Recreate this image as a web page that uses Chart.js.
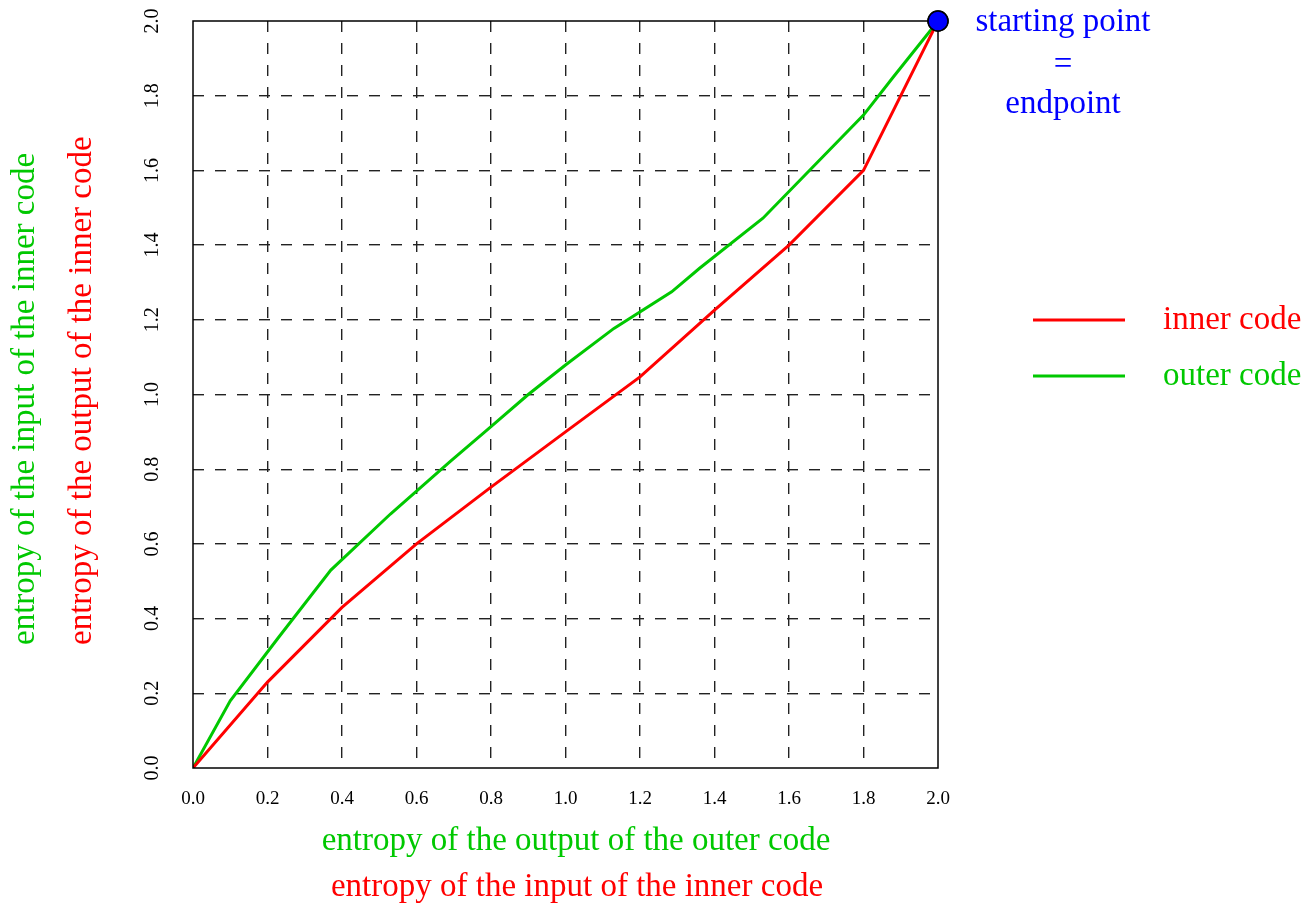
<!DOCTYPE html>
<html>
<head>
<meta charset="utf-8">
<script src="https://cdn.jsdelivr.net/npm/chart.js@4"></script>
<style>
  body { margin: 0; background: #fff; }
  #wrap { width: 1308px; height: 907px; }
</style>
</head>
<body>
<div id="wrap"><canvas id="myChart" width="1308" height="907"></canvas></div>
<script>
// inner code curve (x = input entropy, y = output entropy)
const innerX = [0, 0.2, 0.4, 0.6, 0.8, 1.0, 1.2, 1.4, 1.6, 1.8, 2.0];
const innerY = [0, 0.23, 0.43, 0.60, 0.752, 0.90, 1.047, 1.226, 1.40, 1.60, 2.0];
// outer code curve
const outerX = [0, 0.10, 0.23, 0.37, 0.53, 0.69, 0.80, 0.90, 1.0, 1.13, 1.285, 1.36, 1.53, 1.80, 1.88, 2.0];
const outerY = [0, 0.18, 0.35, 0.53, 0.68, 0.82, 0.914, 1.0, 1.079, 1.177, 1.275, 1.338, 1.472, 1.748, 1.85, 2.0];
const startPoint = [2.0, 2.0];
const tickMin = 0, tickMax = 2.0, tickStep = 0.2;

const seriesNames = ['inner code', 'outer code'];
const RED = '#ff0000', GREEN = '#00c800', BLUE = '#0000ff';
const SERIF = '"Liberation Serif", "Times New Roman", serif';

function toPoints(xs, ys) {
    return xs.map((x, i) => ({ x: x, y: ys[i] }));
}

const data = {
    datasets: [
      {
        label: 'start',
        data: [{ x: startPoint[0], y: startPoint[1] }],
        backgroundColor: BLUE,
        borderColor: '#000',
        pointRadius: 10,
        pointBorderWidth: 1.5,
        showLine: false,
        clip: false
      },
      {
        label: seriesNames[0],
        data: toPoints(innerX, innerY),
        borderColor: RED,
        backgroundColor: RED,
        borderWidth: 3,
        showLine: true,
        pointRadius: 0
      },
      {
        label: seriesNames[1],
        data: toPoints(outerX, outerY),
        borderColor: GREEN,
        backgroundColor: GREEN,
        borderWidth: 3,
        showLine: true,
        pointRadius: 0
      }
    ]
};

function gridColor(ctx) {
    const v = ctx.tick ? ctx.tick.value : null;
    if (v === tickMin || Math.abs(v - tickMax) < 1e-9) return 'rgba(0,0,0,0)';
    return '#222';
}

// frame, legend and the extra texts
const decorations = {
    id: 'decorations',
    beforeDraw(chart) {
        const c = chart.ctx;
        c.save();
        c.fillStyle = '#fff';
        c.fillRect(0, 0, chart.width, chart.height);
        c.restore();
    },
    afterDatasetsDraw(chart) {
        const c = chart.ctx;
        const a = chart.chartArea;
        c.save();
        c.strokeStyle = '#000';
        c.lineWidth = 1.5;
        c.strokeRect(a.left, a.top, a.right - a.left, a.bottom - a.top);
        c.restore();
        // keep the start point above the frame
        const meta = chart.getDatasetMeta(0);
        meta.data.forEach(p => p.draw(c));
    },
    afterDraw(chart) {
        const c = chart.ctx;
        c.save();
        c.font = '33px ' + SERIF;
        c.textBaseline = 'middle';

        // x axis titles
        c.textAlign = 'center';
        c.fillStyle = GREEN;
        c.fillText('entropy of the output of the outer code', 576, 841);
        c.fillStyle = RED;
        c.fillText('entropy of the input of the inner code', 577, 887);

        // y axis titles
        c.save();
        c.translate(25, 645);
        c.rotate(-Math.PI / 2);
        c.textAlign = 'left';
        c.fillStyle = GREEN;
        c.fillText('entropy of the input of the inner code', 0, 0);
        c.restore();
        c.save();
        c.translate(82, 645);
        c.rotate(-Math.PI / 2);
        c.textAlign = 'left';
        c.fillStyle = RED;
        c.fillText('entropy of the output of the inner code', 0, 0);
        c.restore();

        // start point note
        c.textAlign = 'center';
        c.fillStyle = BLUE;
        c.fillText('starting point', 1063, 22);
        c.fillText('=', 1063, 65);
        c.fillText('endpoint', 1063, 104);

        // legend
        const ds = chart.data.datasets.slice(1);
        ds.forEach((d, i) => {
            const y = 320 + i * 56;
            c.strokeStyle = d.borderColor;
            c.lineWidth = 3;
            c.beginPath();
            c.moveTo(1033, y);
            c.lineTo(1125, y);
            c.stroke();
            c.fillStyle = d.borderColor;
            c.textAlign = 'left';
            c.fillText(d.label, 1163, y);
        });
        c.restore();
    }
};

const config = {
    type: 'scatter',
    data: data,
    plugins: [decorations],
    options: {
      animation: false,
      responsive: false,
      layout: {
        padding: { left: 120, right: 370, top: 21, bottom: 100 }
      },
      plugins: {
        legend: { display: false },
        tooltip: { enabled: false }
      },
      scales: {
        x: {
            type: 'linear',
            min: tickMin,
            max: tickMax,
            afterFit: s => { s.height = 39; s.paddingLeft = 0; s.paddingRight = 0; },
            ticks: {
                stepSize: tickStep,
                padding: 20,
                color: '#000',
                font: { family: SERIF, size: 19 },
                callback: v => v.toFixed(1)
            },
            grid: { color: gridColor, lineWidth: 1.4, drawTicks: false },
            border: { display: false, dash: [11, 11] }
        },
        y: {
            type: 'linear',
            min: tickMin,
            max: tickMax,
            afterFit: s => { s.width = 73; s.paddingTop = 0; s.paddingBottom = 0; },
            ticks: {
                stepSize: tickStep,
                padding: 28,
                minRotation: 90,
                maxRotation: 90,
                crossAlign: 'center',
                color: '#000',
                font: { family: SERIF, size: 20 },
                callback: v => v.toFixed(1)
            },
            grid: { color: gridColor, lineWidth: 1.4, drawTicks: false },
            border: { display: false, dash: [11, 11] }
        }
      }
    }
};

var myChart;

function initChart() {
    var ctx = document.getElementById('myChart').getContext('2d');
    myChart = new Chart(ctx, config);
}

window.addEventListener('load', _ => {
    if (!myChart) {
        initChart();
    }
});
</script>
</body>
</html>
